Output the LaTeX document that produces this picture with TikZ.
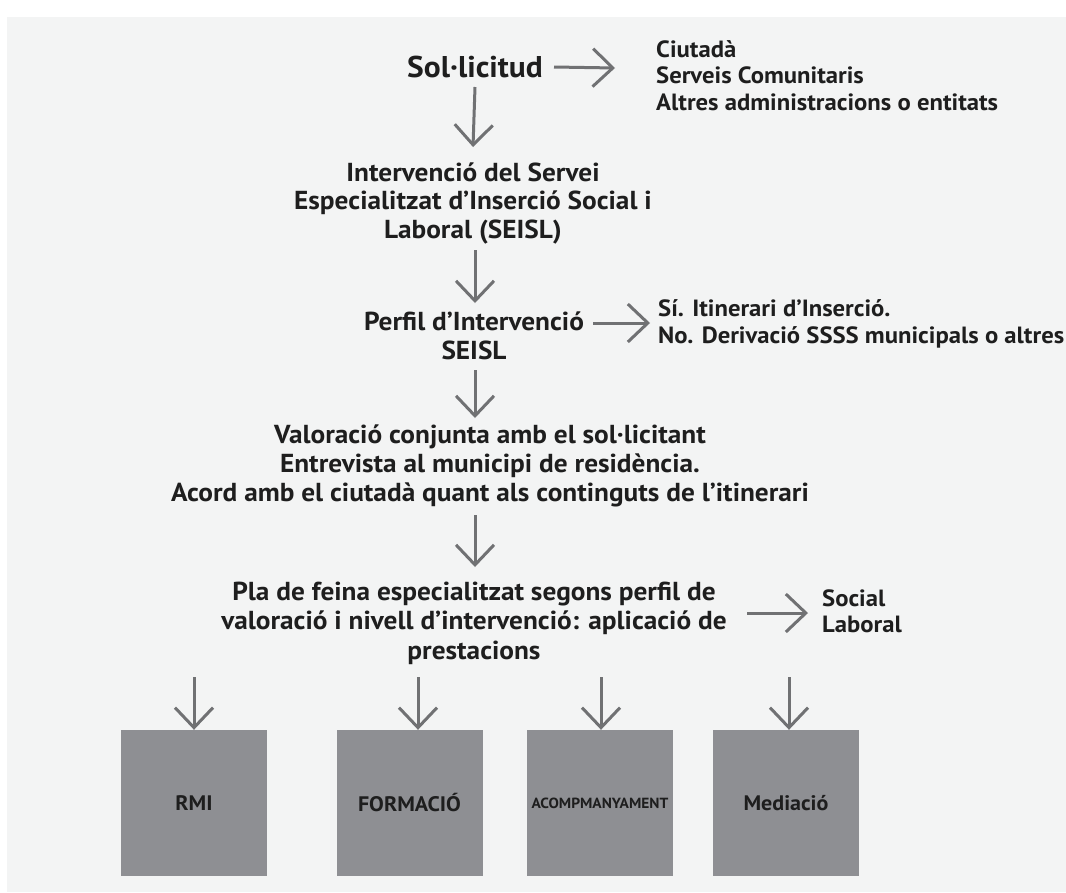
\documentclass[tikz,border=0pt]{standalone}
\usepackage{fontspec}
\setmainfont{PT Sans}[FakeStretch=1.05]
\usetikzlibrary{arrows.meta}
\definecolor{bgpanel}{HTML}{F3F4F4}
\definecolor{arrowgray}{HTML}{707173}
\definecolor{boxgray}{HTML}{8E8F93}
\definecolor{txt}{HTML}{1E1E1E}
\tikzset{
  lbl/.style={inner sep=0pt, text=txt, font=\bfseries\fontsize{26}{28.5}\selectfont, align=center},
  side/.style={inner sep=0pt, text=txt, anchor=west, align=left, font=\bfseries\fontsize{23.5}{26.5}\selectfont},
  arr/.style={draw=arrowgray, line width=3pt, -{Straight Barb[length=20pt, width=38pt, line width=3pt]}},
  pbox/.style={fill=boxgray, minimum width=146pt, minimum height=146pt, inner sep=0pt, text=txt, font=\bfseries\fontsize{21}{26}\selectfont}
}
\begin{document}
\begin{tikzpicture}[x=1pt, y=-1pt]
\useasboundingbox (0,0) rectangle (1066,892);
\fill[white] (0,0) rectangle (1066,892);
\fill[bgpanel] (7,17) rectangle (1066,892);

% main column
\node[lbl, font=\bfseries\fontsize{30}{34}\selectfont] (sol) at (475,67) {Sol·licitud};
\node[side] (solr) at (656,75.5) {Ciutadà\\Serveis Comunitaris\\Altres administracions o entitats};

\node[lbl] (int) at (473,203) {Intervenció del Servei\\Especialitzat d’Inserció Social i\\Laboral (SEISL)};

\node[lbl] (perf) at (474,336) {Perfil d’Intervenció\\SEISL};
\node[side] (perfr) at (658,324) {Sí. Itinerari d’Inserció.\\No. Derivació SSSS municipals o altres};

\node[lbl, font=\bfseries\fontsize{26}{29}\selectfont] (val) at (490,466) {Valoració conjunta amb el sol·licitant\\Entrevista al municipi de residència.\\Acord amb el ciutadà quant als continguts de l’itinerari};

\node[lbl, font=\bfseries\fontsize{26}{29.5}\selectfont] (pla) at (474,623) {Pla de feina especialitzat segons perfil de\\valoració i nivell d’intervenció: aplicació de\\prestacions};
\node[side] (plar) at (822,611.5) {Social\\Laboral};

% boxes
\node[pbox] (b1) at (194,803) {RMI};
\node[pbox] (b2) at (409.5,803) {FORMACIÓ};
\node[pbox, font=\bfseries\fontsize{14.7}{16}\selectfont] (b3) at (600,803) {ACOMPMANYAMENT};
\node[pbox] (b4) at (786,803) {Mediació};

\coordinate (a1) at (194,677);
\coordinate (a2) at (418,677);
\coordinate (a3) at (601,677);
\coordinate (a4) at (789,677);

% connectors
\draw[arr] ([xshift=11pt]sol.east) -- ([xshift=-41pt,yshift=7.5pt]solr.west);
\draw[arr] ([yshift=-20pt]sol.center) -- ([yshift=56pt]int.center);
\draw[arr] ([xshift=2pt,yshift=-47pt]int.center) -- ([xshift=1pt,yshift=33pt]perf.center);
\draw[arr] ([xshift=119pt,yshift=13pt]perf.center) -- ([xshift=-8pt,yshift=1pt]perfr.west);
\draw[arr] ([xshift=1pt,yshift=-34pt]perf.center) -- ([xshift=-15pt,yshift=48pt]val.center);
\draw[arr] ([xshift=-15pt,yshift=-49pt]val.center) -- ([xshift=1pt,yshift=56pt]pla.center);
\draw[arr] ([xshift=273pt,yshift=10pt]pla.center) -- ([xshift=-14pt,yshift=-1.5pt]plar.west);

\draw[arr] (a1) -- (b1.north);
\draw[arr] (a2) -- ([xshift=8.5pt]b2.north);
\draw[arr] (a3) -- ([xshift=1pt]b3.north);
\draw[arr] (a4) -- ([xshift=3pt]b4.north);
\end{tikzpicture}
\end{document}
